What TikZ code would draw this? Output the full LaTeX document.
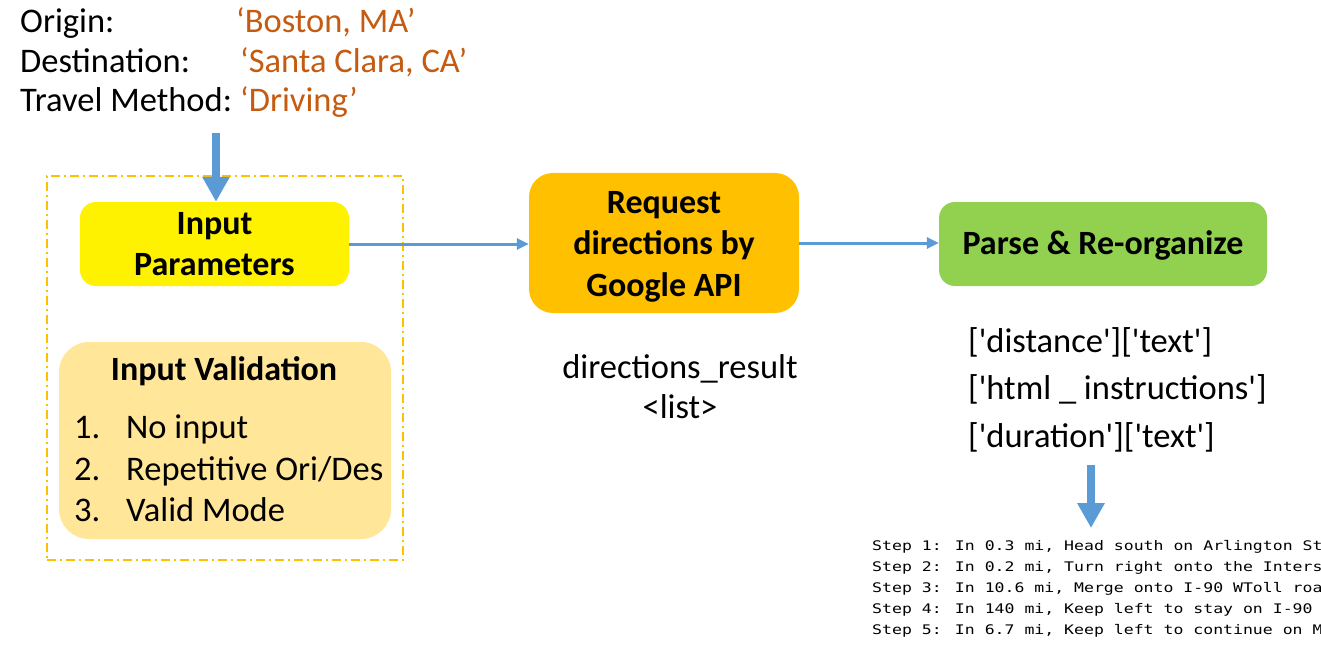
\documentclass[tikz,border=0pt]{standalone}
\usepackage{fontspec}
\setmainfont{Carlito}
\newfontfamily\keyfont{Carlito}
\newfontfamily\stepfont{DejaVu Sans Mono}[FakeStretch=1.25]
\usetikzlibrary{arrows.meta}
\definecolor{ablue}{HTML}{5B9BD5}
\definecolor{dorange}{HTML}{C55A11}
\definecolor{gold}{HTML}{FFC000}
\definecolor{lgold}{HTML}{FFE699}
\definecolor{lgreen}{HTML}{92D050}
\begin{document}
\begin{tikzpicture}[x=1pt,y=-1pt,
  lbl/.style={anchor=base west, inner sep=0pt, font=\fontsize{34.5}{40}\selectfont},
  keylbl/.style={anchor=base west, inner sep=0pt, font=\keyfont\fontsize{34.5}{40}\selectfont},
  ctr/.style={anchor=base, inner sep=0pt, font=\fontsize{34.5}{40}\selectfont},
  steptxt/.style={anchor=base west, inner sep=0pt, font=\stepfont\fontsize{13.2}{16}\selectfont},
  boxnode/.style={rounded corners=16pt, inner sep=0pt, align=center,
     font=\bfseries\fontsize{34}{41.5}\selectfont},
  flow/.style={draw=ablue, line width=3pt, -{Triangle[length=12pt,width=11pt]}},
  bigarrow/.style={draw=ablue, line width=8.5pt, -{Triangle[length=25pt,width=26pt]}}
]
\useasboundingbox (0,0) rectangle (1321,647);

% top parameters text
\node[lbl] (o1) at (20,33) {Origin:};
\node[lbl, text=dorange] (o2) at (236,33) {‘Boston, MA’};
\node[lbl] (d1) at (20,73) {Destination:};
\node[lbl, text=dorange] (d2) at (240,73) {‘Santa Clara, CA’};
\node[lbl] (t1) at (20,112) {Travel Method:};
\node[lbl, text=dorange] (t2) at (240,112) {‘Driving’};

% dash-dot group frame
\node[draw=gold, line width=1.8pt, dash pattern=on 9pt off 4pt on 2pt off 4pt,
      minimum width=356pt, minimum height=384pt, inner sep=0pt] (grp) at (225,368) {};

% boxes
\node[boxnode, fill=yellow, minimum width=269pt, minimum height=84pt] (ip) at (214.5,244) {Input\\Parameters};
\node[rounded corners=30pt, fill=lgold, minimum width=332pt, minimum height=197pt, inner sep=0pt] (val) at (225,440.5) {};
\node[anchor=base, inner sep=0pt, font=\bfseries\fontsize{34}{40}\selectfont] (valt) at (224,380) {Input Validation};
\node[lbl] (n1) at (74,438) {1.};
\node[lbl] (v1) at (126,438) {No input};
\node[lbl] (n2) at (74,480) {2.};
\node[lbl] (v2) at (126,480) {Repetitive Ori/Des};
\node[lbl] (n3) at (74,521) {3.};
\node[lbl] (v3) at (126,521) {Valid Mode};

\node[boxnode, fill=gold, rounded corners=24pt, minimum width=270pt, minimum height=140pt] (req) at (664,243) {};
\node[boxnode, anchor=base] (reqt) at (664,296) {Request\\directions by\\Google API};
\node[boxnode, fill=lgreen, minimum width=328pt, minimum height=84pt] (parse) at (1103,244) {};
\node[boxnode, anchor=base] (parset) at (1103,254) {Parse \& Re-organize};

\node[ctr] (dr1) at (680,378) {directions\_result};
\node[ctr] (dr2) at (680,418) {<list>};

\node[keylbl] (k1) at (968,352) {['distance']['text']};
\node[keylbl] (k2) at (968,399) {['html \_ instructions']};
\node[keylbl] (k3) at (968,447) {['duration']['text']};

% steps (clipped at right edge)
\begin{scope}
\clip (860,530) rectangle (1321,647);
\node[steptxt] (s1) at (872,550) {Step 1: In 0.3 mi, Head south on Arlington St};
\node[steptxt] (s2) at (872,571) {Step 2: In 0.2 mi, Turn right onto the Inters};
\node[steptxt] (s3) at (872,592) {Step 3: In 10.6 mi, Merge onto I-90 WToll roa};
\node[steptxt] (s4) at (872,613) {Step 4: In 140 mi, Keep left to stay on I-90};
\node[steptxt] (s5) at (872,634) {Step 5: In 6.7 mi, Keep left to continue on M};
\end{scope}

% connectors
\coordinate (topstart) at (216,133);
\draw[bigarrow] (topstart) -- (topstart |- ip.north);
\draw[flow] (ip.east) -- (ip.east -| req.west);
\draw[flow] (req.east) -- (req.east -| parse.west);
\coordinate (dstart) at (1091,465);
\coordinate (dend) at (1091,528);
\draw[bigarrow] (dstart) -- (dend);
\end{tikzpicture}
\end{document}
